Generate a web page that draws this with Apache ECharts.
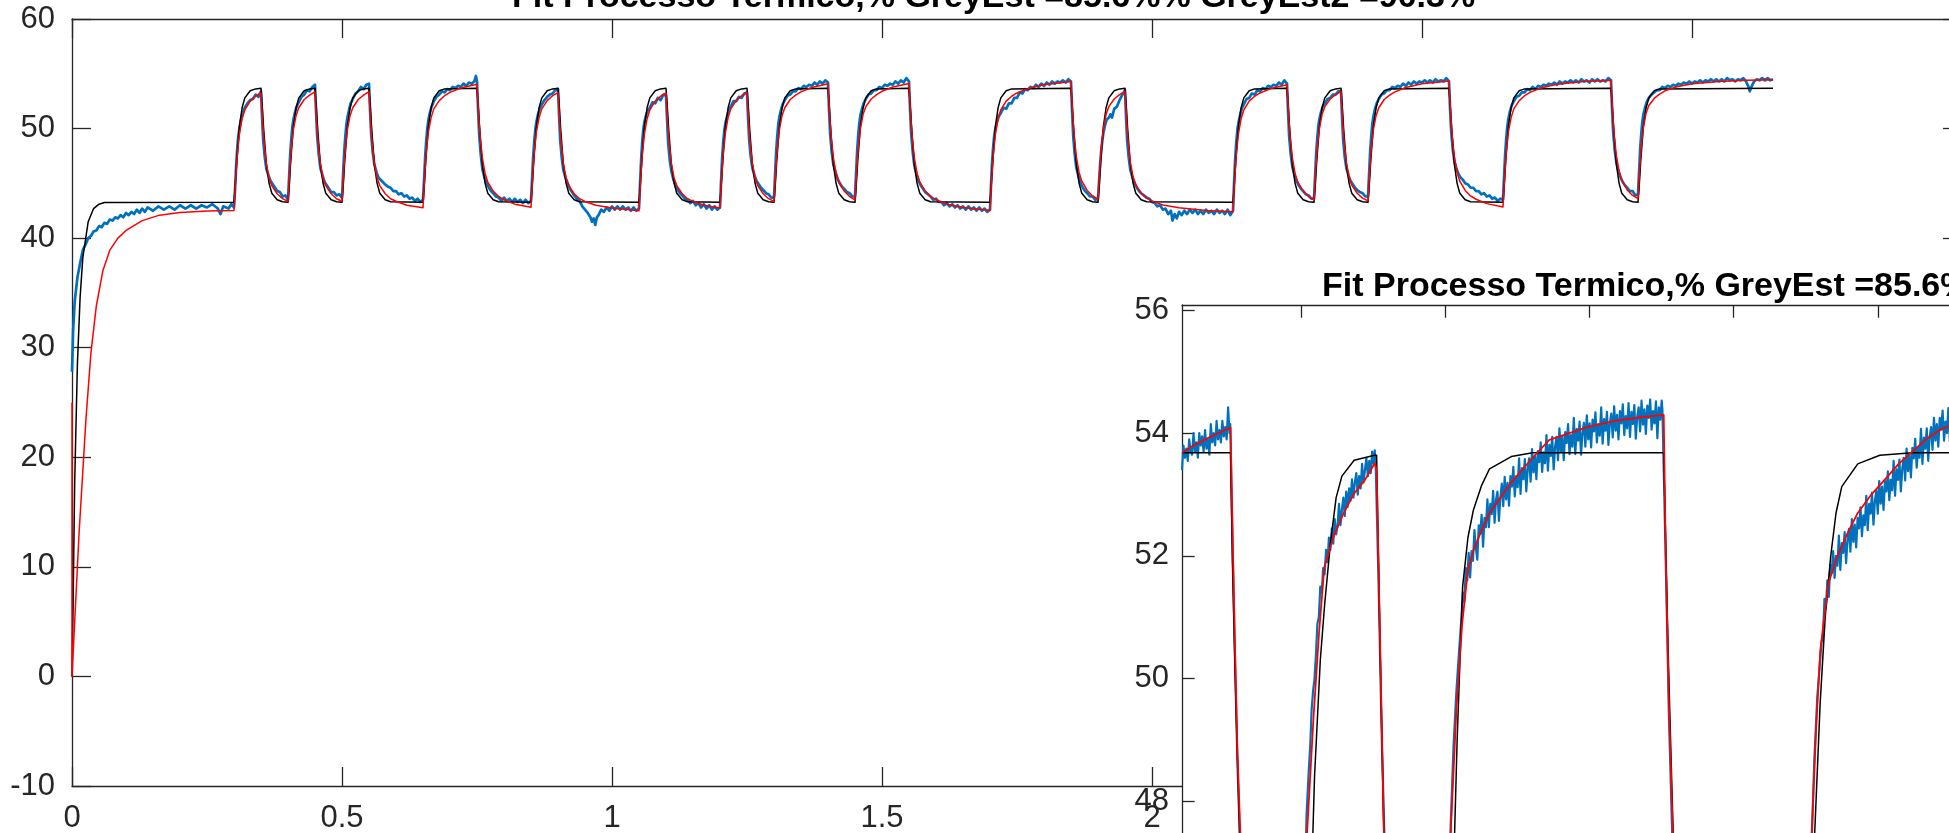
<!DOCTYPE html>
<html><head><meta charset="utf-8">
<script src="https://cdn.jsdelivr.net/npm/echarts@6/dist/echarts.min.js"></script>
<style>html,body{margin:0;padding:0;background:#fff}#c{width:1949px;height:833px}</style>
</head><body><div id="c"></div>
<script>
const mainTitle = 'Fit Processo Termico,% GreyEst =85.6%% GreyEst2 =90.3%';
const insetTitle = 'Fit Processo Termico,% GreyEst =85.6%% GreyEst2 =90.3%';
const mainYTicks = [-10, 0, 10, 20, 30, 40, 50, 60];
const mainXTicks = [0, 0.5, 1, 1.5, 2, 2.5, 3, 3.5];
const insetYTicks = [48, 50, 52, 54, 56];
const insetXTicks = [0.2, 0.3, 0.4, 0.5, 0.6, 0.7, 0.8, 0.9, 1.0];

// measured temperature (blue)
const measured = [
[0,27.8],[0.002,31.5],[0.005,34.2],[0.01,36.4],[0.015,37.7],[0.02,38.9],[0.025,39.4],[0.03,40.0],[0.035,40.2],[0.04,40.6],[0.045,40.7],[0.05,41.1],[0.055,41.0],[0.06,41.4],[0.065,41.3],[0.07,41.7],[0.075,41.6],[0.08,41.9],[0.085,41.8],[0.09,42.1],[0.095,41.9],[0.1,42.3],[0.105,42.1],[0.11,42.4],[0.115,42.2],[0.12,42.6],[0.125,42.3],[0.13,42.7],[0.135,42.4],[0.14,42.8],[0.15,42.5],[0.16,42.9],[0.17,42.6],[0.18,42.9],[0.19,42.6],[0.2,43.0],[0.21,42.7],[0.22,43.0],[0.23,42.7],[0.24,43.0],[0.25,42.8],[0.26,43.1],[0.27,42.7],[0.275,42.2],[0.28,42.9],[0.29,42.7],[0.295,43.1],[0.3,42.8],
[0.302,44.5],[0.304,46.6],[0.306,48.2],[0.308,49.3],[0.31,50.0],[0.313,50.8],[0.316,51.4],[0.32,51.9],[0.325,52.3],[0.33,52.6],[0.335,52.7],[0.34,53.1],[0.345,52.9],[0.35,53.4],
[0.352,51.0],[0.354,49.0],[0.357,47.4],[0.36,46.3],[0.364,45.7],[0.368,45.2],[0.372,44.9],[0.376,44.6],[0.38,44.3],[0.385,44.2],[0.39,43.8],[0.395,43.9],[0.4,43.5],
[0.402,45.5],[0.404,47.6],[0.406,49.0],[0.408,50.1],[0.41,50.8],[0.413,51.5],[0.416,52.0],[0.42,52.4],[0.425,52.9],[0.43,53.1],[0.435,53.5],[0.44,53.4],[0.445,53.8],[0.45,54.0],
[0.452,51.5],[0.454,49.3],[0.457,47.6],[0.46,46.4],[0.464,45.7],[0.468,45.1],[0.472,44.8],[0.476,44.5],[0.48,44.2],[0.485,44.2],[0.49,43.9],[0.495,44.0],[0.5,43.7],
[0.502,45.7],[0.504,47.8],[0.506,49.2],[0.508,50.3],[0.51,51.0],[0.513,51.7],[0.516,52.3],[0.52,52.7],[0.525,53.2],[0.53,53.4],[0.535,53.8],[0.54,53.6],[0.545,54.0],[0.55,54.1],
[0.552,51.6],[0.554,49.5],[0.557,47.8],[0.56,46.7],[0.564,46.0],[0.568,45.5],[0.572,45.3],[0.576,45.1],[0.58,44.9],[0.585,44.7],[0.59,44.6],[0.595,44.3],[0.6,44.3],[0.605,44.0],[0.61,44.1],[0.615,43.8],[0.62,43.9],[0.625,43.6],[0.63,43.7],[0.635,43.4],[0.64,43.6],[0.645,43.3],[0.65,43.5],
[0.652,45.3],[0.654,47.4],[0.656,48.9],[0.658,50.0],[0.66,50.8],[0.663,51.5],[0.666,52.0],[0.67,52.5],[0.675,52.9],[0.68,53.1],[0.685,53.4],[0.69,53.3],[0.695,53.6],[0.7,53.5],[0.705,53.8],[0.71,53.7],[0.715,53.9],[0.72,53.8],[0.725,54.1],[0.73,53.9],[0.735,54.2],[0.74,54.1],[0.745,54.3],[0.748,54.8],[0.75,54.3],
[0.752,51.7],[0.754,49.5],[0.757,47.6],[0.76,46.3],[0.764,45.5],[0.768,45.0],[0.772,44.6],[0.776,44.3],[0.78,44.1],[0.785,43.8],[0.79,43.7],[0.795,43.4],[0.8,43.7],[0.805,43.4],[0.81,43.6],[0.815,43.3],[0.82,43.6],[0.825,43.3],[0.83,43.5],[0.835,43.2],[0.84,43.5],[0.845,43.2],[0.85,43.4],
[0.852,45.4],[0.854,47.4],[0.856,48.8],[0.858,49.9],[0.86,50.6],[0.863,51.3],[0.866,51.8],[0.87,52.2],[0.875,52.6],[0.88,52.9],[0.885,53.1],[0.89,53.2],[0.895,53.5],[0.9,53.6],
[0.902,51.2],[0.904,49.0],[0.907,47.3],[0.91,46.2],[0.914,45.5],[0.918,45.0],[0.922,44.5],[0.926,44.2],[0.93,43.9],[0.935,43.6],[0.94,43.4],[0.945,42.9],[0.95,42.6],[0.955,42.3],[0.96,41.9],[0.963,41.5],[0.966,41.8],[0.969,41.2],[0.972,41.9],[0.975,42.1],[0.98,42.6],[0.985,42.4],[0.99,42.8],[0.995,42.5],[1.0,42.9],[1.005,42.6],[1.01,42.9],[1.015,42.6],[1.02,42.9],[1.025,42.6],[1.03,42.8],[1.035,42.5],[1.04,42.8],[1.045,42.5],[1.05,42.7],
[1.052,45.0],[1.054,47.2],[1.056,48.8],[1.058,49.9],[1.06,50.6],[1.063,51.2],[1.066,51.6],[1.07,51.9],[1.075,52.4],[1.08,52.3],[1.085,52.8],[1.09,52.6],[1.095,53.1],[1.1,53.0],
[1.102,50.8],[1.104,48.7],[1.107,47.1],[1.11,46.1],[1.114,45.3],[1.118,44.8],[1.122,44.4],[1.126,44.1],[1.13,43.9],[1.135,43.6],[1.14,43.5],[1.145,43.2],[1.15,43.4],[1.155,43.0],[1.16,43.2],[1.165,42.8],[1.17,43.1],[1.175,42.7],[1.18,43.0],[1.185,42.6],[1.19,42.9],[1.195,42.6],[1.2,42.8],
[1.202,45.2],[1.204,47.3],[1.206,48.8],[1.208,49.8],[1.21,50.5],[1.213,51.1],[1.216,51.6],[1.22,52.0],[1.225,52.5],[1.23,52.5],[1.235,52.9],[1.24,52.8],[1.245,53.2],[1.25,53.3],
[1.252,51.0],[1.254,49.0],[1.257,47.4],[1.26,46.4],[1.264,45.7],[1.268,45.2],[1.272,44.9],[1.276,44.6],[1.28,44.4],[1.285,44.1],[1.29,44.0],[1.295,43.7],[1.3,43.7],
[1.302,45.8],[1.304,47.9],[1.306,49.3],[1.308,50.4],[1.31,51.1],[1.313,51.7],[1.316,52.2],[1.32,52.6],[1.325,53.0],[1.33,53.1],[1.335,53.4],[1.34,53.4],[1.345,53.7],[1.35,53.6],[1.355,53.9],[1.36,53.8],[1.365,54.0],[1.37,53.9],[1.375,54.2],[1.38,54.0],[1.385,54.3],[1.39,54.1],[1.395,54.4],[1.4,54.2],
[1.402,51.6],[1.404,49.5],[1.407,47.8],[1.41,46.7],[1.414,46.0],[1.418,45.4],[1.422,45.0],[1.426,44.7],[1.43,44.5],[1.435,44.2],[1.44,44.1],[1.445,43.8],[1.45,43.8],
[1.452,45.9],[1.454,48.0],[1.456,49.4],[1.458,50.5],[1.46,51.2],[1.463,51.8],[1.466,52.3],[1.47,52.7],[1.475,53.1],[1.48,53.2],[1.485,53.5],[1.49,53.5],[1.495,53.8],[1.5,53.7],[1.505,54.0],[1.51,53.9],[1.515,54.1],[1.52,54.0],[1.525,54.3],[1.53,54.1],[1.535,54.4],[1.54,54.2],[1.545,54.6],[1.55,54.3],
[1.552,51.7],[1.554,49.6],[1.557,47.8],[1.56,46.6],[1.564,45.8],[1.568,45.2],[1.572,44.8],[1.576,44.5],[1.58,44.2],[1.585,44.0],[1.59,43.8],[1.595,43.5],[1.6,43.6],[1.605,43.3],[1.61,43.3],[1.615,43.0],[1.62,43.2],[1.625,42.9],[1.63,43.1],[1.635,42.8],[1.64,43.0],[1.645,42.7],[1.65,42.9],[1.655,42.6],[1.66,42.9],[1.665,42.6],[1.67,42.8],[1.675,42.5],[1.68,42.8],[1.685,42.5],[1.69,42.7],[1.695,42.4],[1.7,42.6],
[1.702,45.0],[1.704,47.0],[1.706,48.4],[1.708,49.4],[1.71,50.0],[1.713,50.6],[1.716,51.1],[1.72,51.4],[1.725,51.9],[1.73,51.8],[1.735,52.3],[1.74,52.3],[1.745,52.8],[1.75,52.8],[1.755,53.3],[1.76,53.2],[1.765,53.6],[1.77,53.5],[1.775,53.8],[1.78,53.7],[1.785,54.0],[1.79,53.8],[1.795,54.1],[1.8,53.9],[1.805,54.2],[1.81,54.0],[1.815,54.3],[1.82,54.1],[1.825,54.3],[1.83,54.2],[1.835,54.4],[1.84,54.2],[1.845,54.5],[1.85,54.3],
[1.852,51.6],[1.854,49.4],[1.857,47.6],[1.86,46.4],[1.864,45.6],[1.868,45.0],[1.872,44.6],[1.876,44.3],[1.88,44.1],[1.885,43.8],[1.89,43.8],[1.895,43.5],[1.9,43.6],
[1.902,45.2],[1.904,46.8],[1.906,48.0],[1.908,48.9],[1.91,49.6],[1.913,50.3],[1.916,50.8],[1.92,51.0],[1.923,51.3],[1.926,51.0],[1.93,51.8],[1.935,52.0],[1.94,52.6],[1.945,53.1],[1.95,53.5],
[1.952,51.0],[1.954,48.9],[1.957,47.3],[1.96,46.2],[1.964,45.5],[1.968,45.0],[1.972,44.6],[1.976,44.3],[1.98,44.1],[1.985,43.9],[1.99,43.7],[1.995,43.6],[2.0,43.3],[2.005,43.2],[2.01,42.9],[2.015,43.0],[2.02,42.6],[2.025,42.7],[2.03,42.2],[2.035,42.5],[2.038,41.6],[2.042,42.2],[2.046,41.8],[2.05,42.4],[2.055,42.1],[2.06,42.5],[2.065,42.2],[2.07,42.6],[2.075,42.3],[2.08,42.6],[2.085,42.2],[2.09,42.5],[2.095,42.2],[2.1,42.6],[2.105,42.3],[2.11,42.5],[2.115,42.2],[2.12,42.6],[2.125,42.3],[2.13,42.5],[2.135,42.2],[2.14,42.6],[2.145,42.1],[2.15,42.5],
[2.152,45.0],[2.154,47.2],[2.156,48.7],[2.158,49.8],[2.16,50.5],[2.163,51.2],[2.166,51.8],[2.17,52.2],[2.175,52.7],[2.18,52.8],[2.185,53.2],[2.19,53.1],[2.195,53.5],[2.2,53.4],[2.205,53.7],[2.21,53.6],[2.215,53.9],[2.22,53.8],[2.225,54.0],[2.23,53.9],[2.235,54.2],[2.24,54.0],[2.245,54.4],[2.25,54.1],
[2.252,51.5],[2.254,49.3],[2.257,47.6],[2.26,46.5],[2.264,45.7],[2.268,45.2],[2.272,44.8],[2.276,44.5],[2.28,44.3],[2.285,44.0],[2.29,43.9],[2.295,43.6],[2.3,43.6],
[2.302,45.6],[2.304,47.7],[2.306,49.1],[2.308,50.2],[2.31,50.9],[2.313,51.5],[2.316,52.0],[2.32,52.3],[2.325,52.7],[2.33,52.8],[2.335,53.1],[2.34,53.1],[2.345,53.4],[2.35,53.4],
[2.352,51.0],[2.354,49.0],[2.357,47.4],[2.36,46.4],[2.364,45.7],[2.368,45.2],[2.372,44.9],[2.376,44.6],[2.38,44.4],[2.385,44.2],[2.39,44.1],[2.395,43.8],[2.4,43.8],
[2.402,45.8],[2.404,47.9],[2.406,49.3],[2.408,50.4],[2.41,51.1],[2.413,51.8],[2.416,52.3],[2.42,52.7],[2.425,53.1],[2.43,53.2],[2.435,53.5],[2.44,53.5],[2.445,53.8],[2.45,53.7],[2.455,53.9],[2.46,53.8],[2.465,54.1],[2.47,53.9],[2.475,54.2],[2.48,54.0],[2.485,54.3],[2.49,54.1],[2.495,54.3],[2.5,54.2],[2.505,54.4],[2.51,54.2],[2.515,54.4],[2.52,54.2],[2.525,54.5],[2.53,54.3],[2.535,54.4],[2.54,54.3],[2.545,54.6],[2.55,54.3],
[2.552,51.8],[2.554,49.8],[2.557,48.1],[2.56,47.0],[2.564,46.3],[2.568,45.8],[2.572,45.5],[2.576,45.3],[2.58,45.0],[2.585,44.9],[2.59,44.6],[2.595,44.6],[2.6,44.3],[2.605,44.3],[2.61,44.0],[2.615,44.1],[2.62,43.8],[2.625,43.9],[2.63,43.6],[2.635,43.7],[2.64,43.4],[2.645,43.6],[2.65,43.5],
[2.652,45.6],[2.654,47.7],[2.656,49.1],[2.658,50.2],[2.66,50.9],[2.663,51.6],[2.666,52.1],[2.67,52.5],[2.675,52.9],[2.68,53.0],[2.685,53.3],[2.69,53.3],[2.695,53.6],[2.7,53.5],[2.705,53.8],[2.71,53.6],[2.715,53.9],[2.72,53.8],[2.725,54.0],[2.73,53.9],[2.735,54.1],[2.74,54.0],[2.745,54.2],[2.75,54.0],[2.755,54.3],[2.76,54.1],[2.765,54.3],[2.77,54.2],[2.775,54.4],[2.78,54.2],[2.785,54.4],[2.79,54.2],[2.795,54.5],[2.8,54.3],[2.805,54.4],[2.81,54.2],[2.815,54.5],[2.82,54.3],[2.825,54.5],[2.83,54.3],[2.835,54.4],[2.84,54.3],[2.845,54.6],[2.85,54.4],
[2.852,51.8],[2.854,49.7],[2.857,48.0],[2.86,46.9],[2.864,46.1],[2.868,45.5],[2.872,45.1],[2.876,44.8],[2.88,44.6],[2.885,44.3],[2.89,44.3],[2.895,43.9],[2.9,44.0],
[2.902,46.0],[2.904,48.1],[2.906,49.5],[2.908,50.6],[2.91,51.3],[2.913,51.9],[2.916,52.4],[2.92,52.8],[2.925,53.1],[2.93,53.3],[2.935,53.5],[2.94,53.5],[2.945,53.8],[2.95,53.7],[2.955,53.9],[2.96,53.8],[2.965,54.0],[2.97,53.9],[2.975,54.1],[2.98,54.0],[2.985,54.2],[2.99,54.1],[2.995,54.3],[3.0,54.1],[3.005,54.3],[3.01,54.2],[3.015,54.4],[3.02,54.2],[3.025,54.4],[3.03,54.3],[3.035,54.5],[3.04,54.3],[3.045,54.5],[3.05,54.3],[3.055,54.5],[3.06,54.3],[3.065,54.6],[3.07,54.4],[3.075,54.5],[3.08,54.3],[3.085,54.5],[3.09,54.4],[3.095,54.6],[3.1,54.3],[3.104,53.9],[3.107,53.4],[3.11,53.8],[3.115,54.3],[3.12,54.5],[3.125,54.4],[3.13,54.6],[3.135,54.4],[3.14,54.6],[3.145,54.4],[3.15,54.5]
];

// GreyEst model output (black)
const greyEst = [
[0,0],[0.002,6.5],[0.005,17.8],[0.01,28.5],[0.015,34.6],[0.02,38.2],[0.03,41.5],[0.04,42.7],[0.05,43.1],[0.06,43.25],[0.3,43.27],
[0.302,44.6],[0.305,47.0],[0.31,50.2],[0.315,51.9],[0.32,52.8],[0.33,53.45],[0.34,53.62],[0.35,53.67],
[0.352,52.3],[0.355,49.9],[0.36,46.7],[0.365,45.0],[0.37,44.1],[0.38,43.5],[0.39,43.32],[0.4,43.27],
[0.402,44.6],[0.405,47.0],[0.41,50.2],[0.415,51.9],[0.42,52.8],[0.43,53.45],[0.44,53.62],[0.45,53.67],
[0.452,52.3],[0.455,49.9],[0.46,46.7],[0.465,45.0],[0.47,44.1],[0.48,43.5],[0.49,43.32],[0.5,43.27],
[0.502,44.6],[0.505,47.0],[0.51,50.2],[0.515,51.9],[0.52,52.8],[0.53,53.45],[0.54,53.62],[0.55,53.67],
[0.552,52.3],[0.555,49.9],[0.56,46.7],[0.565,45.0],[0.57,44.1],[0.58,43.5],[0.59,43.32],[0.65,43.27],
[0.652,44.6],[0.655,47.0],[0.66,50.2],[0.665,51.9],[0.67,52.8],[0.68,53.45],[0.69,53.62],[0.75,53.67],
[0.752,52.3],[0.755,49.9],[0.76,46.7],[0.765,45.0],[0.77,44.1],[0.78,43.5],[0.79,43.32],[0.85,43.27],
[0.852,44.6],[0.855,47.0],[0.86,50.2],[0.865,51.9],[0.87,52.8],[0.88,53.45],[0.89,53.62],[0.9,53.67],
[0.902,52.3],[0.905,49.9],[0.91,46.7],[0.915,45.0],[0.92,44.1],[0.93,43.5],[0.94,43.32],[1.05,43.27],
[1.052,44.6],[1.055,47.0],[1.06,50.2],[1.065,51.9],[1.07,52.8],[1.08,53.45],[1.09,53.62],[1.1,53.67],
[1.102,52.3],[1.105,49.9],[1.11,46.7],[1.115,45.0],[1.12,44.1],[1.13,43.5],[1.14,43.32],[1.2,43.27],
[1.202,44.6],[1.205,47.0],[1.21,50.2],[1.215,51.9],[1.22,52.8],[1.23,53.45],[1.24,53.62],[1.25,53.67],
[1.252,52.3],[1.255,49.9],[1.26,46.7],[1.265,45.0],[1.27,44.1],[1.28,43.5],[1.29,43.32],[1.3,43.27],
[1.302,44.6],[1.305,47.0],[1.31,50.2],[1.315,51.9],[1.32,52.8],[1.33,53.45],[1.34,53.62],[1.4,53.67],
[1.402,52.3],[1.405,49.9],[1.41,46.7],[1.415,45.0],[1.42,44.1],[1.43,43.5],[1.44,43.32],[1.45,43.27],
[1.452,44.6],[1.455,47.0],[1.46,50.2],[1.465,51.9],[1.47,52.8],[1.48,53.45],[1.49,53.62],[1.55,53.67],
[1.552,52.3],[1.555,49.9],[1.56,46.7],[1.565,45.0],[1.57,44.1],[1.58,43.5],[1.59,43.32],[1.7,43.27],
[1.702,44.6],[1.705,47.0],[1.71,50.2],[1.715,51.9],[1.72,52.8],[1.73,53.45],[1.74,53.62],[1.85,53.67],
[1.852,52.3],[1.855,49.9],[1.86,46.7],[1.865,45.0],[1.87,44.1],[1.88,43.5],[1.89,43.32],[1.9,43.27],
[1.902,44.6],[1.905,47.0],[1.91,50.2],[1.915,51.9],[1.92,52.8],[1.93,53.45],[1.94,53.62],[1.95,53.67],
[1.952,52.3],[1.955,49.9],[1.96,46.7],[1.965,45.0],[1.97,44.1],[1.98,43.5],[1.99,43.32],[2.15,43.27],
[2.152,44.6],[2.155,47.0],[2.16,50.2],[2.165,51.9],[2.17,52.8],[2.18,53.45],[2.19,53.62],[2.25,53.67],
[2.252,52.3],[2.255,49.9],[2.26,46.7],[2.265,45.0],[2.27,44.1],[2.28,43.5],[2.29,43.32],[2.3,43.27],
[2.302,44.6],[2.305,47.0],[2.31,50.2],[2.315,51.9],[2.32,52.8],[2.33,53.45],[2.34,53.62],[2.35,53.67],
[2.352,52.3],[2.355,49.9],[2.36,46.7],[2.365,45.0],[2.37,44.1],[2.38,43.5],[2.39,43.32],[2.4,43.27],
[2.402,44.6],[2.405,47.0],[2.41,50.2],[2.415,51.9],[2.42,52.8],[2.43,53.45],[2.44,53.62],[2.55,53.67],
[2.552,52.3],[2.555,49.9],[2.56,46.7],[2.565,45.0],[2.57,44.1],[2.58,43.5],[2.59,43.32],[2.65,43.27],
[2.652,44.6],[2.655,47.0],[2.66,50.2],[2.665,51.9],[2.67,52.8],[2.68,53.45],[2.69,53.62],[2.85,53.67],
[2.852,52.3],[2.855,49.9],[2.86,46.7],[2.865,45.0],[2.87,44.1],[2.88,43.5],[2.89,43.32],[2.9,43.27],
[2.902,44.6],[2.905,47.0],[2.91,50.2],[2.915,51.9],[2.92,52.8],[2.93,53.45],[2.94,53.62],[3.15,53.67]
];

// GreyEst2 model output (red)
const greyEst2 = [
[0,25],[0,0],[0.013,13],[0.026,23.6],[0.035,29.5],[0.045,33.8],[0.057,37.0],[0.07,38.9],[0.085,40.0],[0.1,40.7],[0.13,41.6],[0.162,42.1],[0.2,42.35],[0.25,42.48],[0.3,42.52],
[0.303,45.3],[0.306,47.5],[0.31,49.5],[0.315,50.9],[0.32,51.7],[0.33,52.5],[0.34,52.95],[0.35,53.25],
[0.353,50.6],[0.356,48.6],[0.36,46.8],[0.365,45.5],[0.37,44.8],[0.38,44.05],[0.39,43.6],[0.4,43.35],
[0.403,46.0],[0.406,48.1],[0.41,49.9],[0.415,51.2],[0.42,51.9],[0.43,52.65],[0.44,53.05],[0.45,53.35],
[0.453,50.6],[0.456,48.6],[0.46,46.8],[0.465,45.5],[0.47,44.8],[0.48,44.05],[0.49,43.6],[0.5,43.37],
[0.503,46.0],[0.506,48.1],[0.51,49.9],[0.515,51.2],[0.52,51.9],[0.53,52.65],[0.54,53.05],[0.55,53.37],
[0.553,50.6],[0.556,48.6],[0.56,46.8],[0.565,45.5],[0.57,44.8],[0.58,44.05],[0.59,43.6],[0.6,43.37],[0.62,43.0],[0.65,42.78],
[0.653,45.6],[0.656,47.8],[0.66,49.7],[0.665,51.0],[0.67,51.8],[0.68,52.55],[0.69,53.0],[0.7,53.3],[0.72,53.7],[0.75,54.05],
[0.753,51.3],[0.756,49.2],[0.76,47.3],[0.765,45.9],[0.77,45.1],[0.78,44.3],[0.79,43.8],[0.8,43.5],[0.82,43.1],[0.85,42.82],
[0.853,45.6],[0.856,47.8],[0.86,49.7],[0.865,51.0],[0.87,51.8],[0.88,52.55],[0.89,53.0],[0.9,53.28],
[0.903,50.6],[0.906,48.6],[0.91,46.8],[0.915,45.5],[0.92,44.8],[0.93,44.05],[0.94,43.6],[0.95,43.35],[0.97,43.0],[1.0,42.75],[1.05,42.5],
[1.053,45.3],[1.056,47.5],[1.06,49.5],[1.065,50.9],[1.07,51.7],[1.08,52.5],[1.09,52.95],[1.1,53.25],
[1.103,50.6],[1.106,48.6],[1.11,46.8],[1.115,45.5],[1.12,44.8],[1.13,44.05],[1.14,43.6],[1.15,43.35],[1.17,43.0],[1.2,42.75],
[1.203,45.5],[1.206,47.7],[1.21,49.6],[1.215,51.0],[1.22,51.8],[1.23,52.55],[1.24,53.0],[1.25,53.28],
[1.253,50.6],[1.256,48.6],[1.26,46.8],[1.265,45.5],[1.27,44.8],[1.28,44.05],[1.29,43.6],[1.3,43.35],
[1.303,46.0],[1.306,48.1],[1.31,49.9],[1.315,51.2],[1.32,51.9],[1.33,52.65],[1.34,53.05],[1.35,53.35],[1.37,53.75],[1.4,54.1],
[1.403,51.3],[1.406,49.2],[1.41,47.3],[1.415,45.9],[1.42,45.1],[1.43,44.3],[1.44,43.8],[1.45,43.5],
[1.453,46.1],[1.456,48.2],[1.46,50.0],[1.465,51.3],[1.47,52.0],[1.48,52.7],[1.49,53.1],[1.5,53.4],[1.52,53.8],[1.55,54.12],
[1.553,51.3],[1.556,49.2],[1.56,47.3],[1.565,45.9],[1.57,45.1],[1.58,44.3],[1.59,43.8],[1.6,43.5],[1.62,43.1],[1.65,42.8],[1.7,42.52],
[1.703,45.3],[1.706,47.5],[1.71,49.5],[1.715,50.9],[1.72,51.7],[1.73,52.5],[1.74,52.95],[1.75,53.25],[1.77,53.65],[1.8,54.0],[1.85,54.3],
[1.853,51.4],[1.856,49.3],[1.86,47.4],[1.865,46.0],[1.87,45.2],[1.88,44.35],[1.89,43.85],[1.9,43.55],
[1.903,46.1],[1.906,48.2],[1.91,50.0],[1.915,51.3],[1.92,52.0],[1.93,52.7],[1.94,53.1],[1.95,53.4],
[1.953,50.7],[1.956,48.7],[1.96,46.9],[1.965,45.6],[1.97,44.85],[1.98,44.1],[1.99,43.65],[2.0,43.4],[2.02,43.02],[2.05,42.77],[2.1,42.52],[2.15,42.42],
[2.153,45.3],[2.156,47.5],[2.16,49.5],[2.165,50.9],[2.17,51.7],[2.18,52.5],[2.19,52.95],[2.2,53.25],[2.22,53.65],[2.25,54.0],
[2.253,51.3],[2.256,49.2],[2.26,47.3],[2.265,45.9],[2.27,45.1],[2.28,44.3],[2.29,43.8],[2.3,43.5],
[2.303,46.1],[2.306,48.2],[2.31,50.0],[2.315,51.3],[2.32,52.0],[2.33,52.7],[2.34,53.1],[2.35,53.4],
[2.353,50.7],[2.356,48.7],[2.36,46.9],[2.365,45.6],[2.37,44.85],[2.38,44.1],[2.39,43.65],[2.4,43.4],
[2.403,46.0],[2.406,48.1],[2.41,49.9],[2.415,51.2],[2.42,51.9],[2.43,52.65],[2.44,53.05],[2.45,53.35],[2.47,53.75],[2.5,54.1],[2.55,54.35],
[2.553,51.4],[2.556,49.3],[2.56,47.4],[2.565,46.0],[2.57,45.2],[2.58,44.35],[2.59,43.85],[2.6,43.55],[2.62,43.15],[2.65,42.85],
[2.653,45.6],[2.656,47.8],[2.66,49.7],[2.665,51.0],[2.67,51.8],[2.68,52.55],[2.69,53.0],[2.7,53.3],[2.72,53.7],[2.75,54.05],[2.8,54.3],[2.85,54.4],
[2.853,51.5],[2.856,49.4],[2.86,47.5],[2.865,46.1],[2.87,45.3],[2.88,44.4],[2.89,43.9],[2.9,43.6],
[2.903,46.2],[2.906,48.3],[2.91,50.1],[2.915,51.4],[2.92,52.1],[2.93,52.75],[2.94,53.15],[2.95,53.45],[2.97,53.8],[3.0,54.1],[3.05,54.3],[3.1,54.4],[3.15,54.45]
];

// inset (second figure) data
const insetMeasured = [
[0.117,53.4],[0.118,53.8],[0.119,53.6],[0.12,53.75],[0.121,53.55],[0.122,53.9],[0.123,53.7],[0.124,53.65],[0.125,54.0],[0.126,53.7],[0.127,53.85],[0.128,53.6],[0.129,54.0],[0.13,53.8],[0.131,53.95],[0.132,53.7],[0.133,54.05],[0.134,53.75],[0.135,53.9],[0.136,53.65],[0.137,54.15],[0.138,53.85],[0.139,54.0],[0.14,53.8],[0.141,54.2],[0.142,53.9],[0.143,54.05],[0.144,53.85],[0.145,54.2],[0.146,53.95],[0.147,54.1],[0.148,53.9],[0.149,54.42],[0.15,54.0],[0.1505,54.15],
[0.152,52.3],[0.1535,50.6],[0.1555,48.6],[0.158,46.8],[0.162,45.4],[0.175,43.7],[0.19,43.2],[0.199,43.0],
[0.2015,45.9],[0.2035,47.8],[0.205,48.5],[0.206,48.9],[0.207,49.5],[0.208,49.8],[0.209,50.0],[0.21,50.4],[0.211,50.9],[0.212,51.0],[0.213,51.5],[0.214,51.4],[0.215,51.8],[0.216,51.7],[0.217,52.1],[0.218,51.9],[0.219,52.3],[0.22,52.1],[0.221,52.45],[0.222,52.2],[0.223,52.6],[0.224,52.35],[0.225,52.5],[0.226,52.85],[0.227,52.5],[0.228,52.75],[0.229,52.95],[0.23,52.65],[0.231,53.05],[0.232,52.8],[0.233,53.1],[0.234,52.9],[0.235,53.25],[0.236,52.95],[0.237,53.2],[0.238,53.35],[0.239,53.0],[0.24,53.3],[0.241,53.1],[0.242,53.5],[0.243,53.2],[0.244,53.4],[0.245,53.6],[0.246,53.3],[0.247,53.55],[0.248,53.35],[0.249,53.7],[0.25,53.5],[0.2508,53.72],[0.2515,53.45],
[0.2535,51.5],[0.2555,49.2],[0.258,47.0],[0.263,45.0],[0.27,43.9],[0.285,43.2],[0.3,43.0],
[0.3015,45.3],[0.3035,47.6],[0.3055,48.9],[0.3075,49.8],[0.3095,50.5],[0.311,51.0],[0.312,51.4],[0.313,51.25],[0.314,51.8],[0.315,51.6],[0.316,52.05],[0.317,51.65],[0.318,52.08],[0.319,51.92],[0.32,52.42],[0.321,52.13],[0.322,51.94],[0.323,52.5],[0.324,52.36],[0.325,52.67],[0.326,52.15],[0.327,52.62],[0.328,52.47],[0.329,52.92],[0.33,52.47],[0.331,52.85],[0.332,52.68],[0.333,53.06],[0.334,52.54],[0.335,52.92],[0.336,53.05],[0.337,52.57],[0.338,52.95],[0.339,53.18],[0.34,52.81],[0.341,53.29],[0.342,52.92],[0.343,53.19],[0.344,52.82],[0.345,53.3],[0.346,53.13],[0.347,53.45],[0.348,52.97],[0.349,53.3],[0.35,53.12],[0.351,53.59],[0.352,53.01],[0.353,53.43],[0.354,53.25],[0.355,53.58],[0.356,53.05],[0.357,53.42],[0.358,53.59],[0.359,53.21],[0.36,53.74],[0.361,53.36],[0.362,53.63],[0.363,53.25],[0.364,53.71],[0.365,53.53],[0.366,53.85],[0.367,53.37],[0.368,53.69],[0.369,53.51],[0.37,53.97],[0.371,53.39],[0.372,53.81],[0.373,53.63],[0.374,53.94],[0.375,53.41],[0.376,53.78],[0.377,53.94],[0.378,53.56],[0.379,54.08],[0.38,53.69],[0.381,53.95],[0.382,53.56],[0.383,54.02],[0.384,53.84],[0.385,54.15],[0.386,53.66],[0.387,53.97],[0.388,53.78],[0.389,54.25],[0.39,53.66],[0.391,54.07],[0.392,53.88],[0.393,54.19],[0.394,53.65],[0.395,54.01],[0.396,54.17],[0.397,53.78],[0.398,54.29],[0.399,53.9],[0.4,54.16],[0.401,53.77],[0.402,54.22],[0.403,54.03],[0.404,54.34],[0.405,53.85],[0.406,54.15],[0.407,53.96],[0.408,54.42],[0.409,53.83],[0.41,54.23],[0.411,54.04],[0.412,54.35],[0.413,53.81],[0.414,54.16],[0.415,54.32],[0.416,53.93],[0.417,54.44],[0.418,54.04],[0.419,54.3],[0.42,53.9],[0.421,54.36],[0.422,54.16],[0.423,54.47],[0.424,53.97],[0.425,54.28],[0.426,54.08],[0.427,54.49],[0.428,53.94],[0.429,54.35],[0.43,54.15],[0.431,54.46],[0.432,53.91],[0.433,54.27],[0.434,54.42],[0.435,54.03],[0.436,54.53],[0.437,54.14],[0.438,54.39],[0.439,53.99],[0.44,54.45],[0.441,54.25],[0.442,54.55],[0.443,54.06],[0.444,54.36],[0.445,54.16],[0.446,54.52],[0.447,53.92],[0.448,54.42],[0.449,54.22],[0.45,54.53],[0.4505,54.38],
[0.453,51.7],[0.455,49.4],[0.4575,47.3],[0.462,45.4],[0.47,44.2],[0.485,43.4],[0.51,43.0],[0.54,42.8],[0.5505,42.7],
[0.552,45.2],[0.554,47.3],[0.556,48.7],[0.558,49.7],[0.56,50.3],[0.561,50.6],[0.562,50.7],[0.563,51.3],[0.564,51.15],[0.565,51.6],[0.566,51.33],[0.567,51.85],[0.568,51.72],[0.569,52.08],[0.57,51.64],[0.571,52.0],[0.572,51.84],[0.573,52.33],[0.574,51.77],[0.575,52.21],[0.576,52.05],[0.577,52.39],[0.578,51.88],[0.579,52.26],[0.58,52.44],[0.581,52.07],[0.582,52.6],[0.583,52.23],[0.584,52.51],[0.585,52.14],[0.586,52.62],[0.587,52.45],[0.588,52.79],[0.589,52.32],[0.59,52.66],[0.591,52.5],[0.592,52.98],[0.593,52.42],[0.594,52.85],[0.595,52.69],[0.596,53.03],[0.597,52.51],[0.598,52.89],[0.599,53.07],[0.6,52.69],[0.601,53.22],[0.602,52.85],[0.603,53.13],[0.604,52.75],[0.605,53.22],[0.606,53.05],[0.607,53.38],[0.608,52.91],[0.609,53.24],[0.61,53.07],[0.611,53.55],[0.612,52.98],[0.613,53.41],[0.614,53.24],[0.615,53.57],[0.616,53.05],[0.617,53.42],[0.618,53.6],[0.619,53.23],[0.62,53.75],[0.621,53.38],[0.622,53.66],[0.623,53.28],[0.624,53.76],[0.625,53.59],[0.626,53.91],[0.627,53.44],[0.628,53.77],[0.629,53.6],[0.63,54.07],[0.631,53.5],[0.632,53.93],[0.633,53.75],[0.634,54.08],[0.635,53.55],[0.636,53.93],[0.637,54.1],[0.638,53.73],[0.639,54.25],[0.64,53.88],[0.641,54.15],[0.642,53.78],[0.643,54.25],[0.644,54.06],[0.645,54.37],[0.646,53.88],[0.647,54.19],[0.648,54.0],[0.649,54.41],[0.65,53.87],[0.652,54.23],[0.655,54.05],[0.66,54.3]
];
const insetGreyEst = [
[0.117,53.68],[0.1507,53.68],[0.152,51.9],[0.1545,49.5],[0.1576,47.0],[0.162,45.0],[0.17,43.8],[0.18,43.35],[0.2,43.27],
[0.203,44.5],[0.206,46.0],[0.209,48.4],[0.213,50.3],[0.216,51.2],[0.22,52.2],[0.224,52.95],[0.228,53.3],[0.2365,53.56],[0.2507,53.64],
[0.2521,53.64],[0.2545,50.5],[0.2572,47.4],[0.262,45.0],[0.27,43.8],[0.28,43.35],[0.3,43.27],
[0.302,44.3],[0.305,46.4],[0.308,49.0],[0.3118,51.5],[0.3155,52.3],[0.3193,52.75],[0.325,53.15],[0.3305,53.42],[0.3456,53.62],[0.3604,53.68],[0.4514,53.68],
[0.4545,50.4],[0.4583,47.2],[0.463,45.0],[0.47,43.8],[0.48,43.35],[0.552,43.27],
[0.554,45.0],[0.5562,47.48],[0.56,49.6],[0.5635,51.0],[0.5673,51.99],[0.571,52.7],[0.575,53.13],[0.5861,53.5],[0.6014,53.64],[0.624,53.68],[0.75,53.68]
];
const insetGreyEst2 = [
[0.117,53.68],[0.125,53.8],[0.133,53.9],[0.142,54.0],[0.1507,54.09],
[0.152,52.5],[0.1535,50.8],[0.1555,48.8],[0.1576,47.4],[0.161,45.8],[0.167,44.6],[0.175,43.8],[0.19,43.3],[0.199,43.2],
[0.2015,45.6],[0.2038,47.48],[0.2083,49.37],[0.2121,50.74],[0.2158,51.82],[0.222,52.3],[0.229,52.69],[0.236,53.0],[0.244,53.24],[0.2508,53.51],
[0.2521,53.4],[0.2545,50.6],[0.2572,47.4],[0.262,45.3],[0.27,44.0],[0.285,43.3],[0.3,43.05],
[0.3005,45.2],[0.3035,47.48],[0.3075,49.5],[0.3115,50.9],[0.3155,51.77],[0.3193,52.09],[0.325,52.42],[0.3305,52.7],[0.3456,53.2],[0.3604,53.6],[0.372,53.89],[0.3983,54.1],[0.4171,54.2],[0.4359,54.26],[0.4514,54.3],
[0.4528,52.0],[0.455,49.6],[0.4583,47.0],[0.463,45.3],[0.47,44.2],[0.485,43.4],[0.51,43.0],[0.54,42.8],[0.551,42.75],
[0.5525,45.8],[0.5542,47.48],[0.5572,49.2],[0.5601,50.46],[0.5657,51.55],[0.5713,51.95],[0.5786,52.35],[0.5861,52.7],[0.5955,53.0],[0.6052,53.25],[0.6145,53.5],[0.624,53.7],[0.6335,53.9],[0.6428,54.05],[0.655,54.17],[0.7,54.35],[0.75,54.45]
];

const AX = '#262626';
const FONT = '"Liberation Sans", Arial, Helvetica, sans-serif';
const BLUE = '#0072BD';
const tickLabel = {color: AX, fontSize: 31, fontFamily: FONT};
const axLine = {onZero: false, lineStyle: {color: AX, width: 1.3}};
function tick(len) { return {inside: true, length: len, lineStyle: {color: AX, width: 1.3}}; }

const chart = echarts.init(document.getElementById('c'), null, {renderer: 'canvas', devicePixelRatio: 1});
const option = {
  animation: false,
  backgroundColor: '#fff',
  title: [
    {text: mainTitle, left: 512, top: -19, padding: 0, textStyle: {fontFamily: FONT, fontSize: 34, fontWeight: 'bold', color: '#000'}},
    {text: insetTitle, left: 1322, top: 270, padding: 0, z: 20, textStyle: {fontFamily: FONT, fontSize: 34, fontWeight: 'bold', color: '#000'}}
  ],
  grid: [
    {left: 72, top: 19, width: 1890, height: 767, show: false, containLabel: false, outerBoundsMode: 'none'},
    {left: 1182, top: 305, width: 1272, height: 619, show: true, backgroundColor: '#fff', borderWidth: 0, z: 10, containLabel: false, outerBoundsMode: 'none'}
  ],
  xAxis: [
    {gridIndex: 0, type: 'value', min: mainXTicks[0], max: mainXTicks[mainXTicks.length-1], interval: 0.5, position: 'bottom',
     axisLine: axLine, axisTick: tick(19), splitLine: {show: false}, axisLabel: Object.assign({margin: 17}, tickLabel)},
    {gridIndex: 0, type: 'value', min: mainXTicks[0], max: mainXTicks[mainXTicks.length-1], interval: 0.5, position: 'top',
     axisLine: axLine, axisTick: tick(19), splitLine: {show: false}, axisLabel: {show: false}},
    {gridIndex: 1, type: 'value', min: 0.117, max: 1.0, position: 'bottom', z: 11,
     axisLine: axLine, axisTick: Object.assign(tick(12.7), {customValues: insetXTicks}), splitLine: {show: false},
     axisLabel: Object.assign({margin: 17, customValues: insetXTicks}, tickLabel)},
    {gridIndex: 1, type: 'value', min: 0.117, max: 1.0, position: 'top', z: 11,
     axisLine: axLine, axisTick: Object.assign(tick(12.7), {customValues: insetXTicks}), splitLine: {show: false}, axisLabel: {show: false}}
  ],
  yAxis: [
    {gridIndex: 0, type: 'value', min: mainYTicks[0], max: mainYTicks[mainYTicks.length-1], interval: 10, position: 'left',
     axisLine: axLine, axisTick: tick(19), splitLine: {show: false}, axisLabel: Object.assign({margin: 17}, tickLabel)},
    {gridIndex: 0, type: 'value', min: mainYTicks[0], max: mainYTicks[mainYTicks.length-1], interval: 10, position: 'right',
     axisLine: axLine, axisTick: tick(19), splitLine: {show: false}, axisLabel: {show: false}},
    {gridIndex: 1, type: 'value', min: 46, max: 56.09, position: 'left', z: 11,
     axisLine: axLine, axisTick: Object.assign(tick(12.7), {customValues: insetYTicks}), splitLine: {show: false},
     axisLabel: Object.assign({margin: 13, customValues: insetYTicks}, tickLabel)},
    {gridIndex: 1, type: 'value', min: 46, max: 56.09, position: 'right', z: 11,
     axisLine: axLine, axisTick: Object.assign(tick(12.7), {customValues: insetYTicks}), splitLine: {show: false}, axisLabel: {show: false}}
  ],
  series: [
    {name: 'measured', type: 'line', xAxisIndex: 0, yAxisIndex: 0, data: measured, showSymbol: false, symbol: 'none', z: 2,
     lineStyle: {color: BLUE, width: 2.7, join: 'round'}},
    {name: 'GreyEst', type: 'line', xAxisIndex: 0, yAxisIndex: 0, data: greyEst, showSymbol: false, symbol: 'none', z: 3,
     lineStyle: {color: '#000', width: 1.5, join: 'round'}},
    {name: 'GreyEst2', type: 'line', xAxisIndex: 0, yAxisIndex: 0, data: greyEst2, showSymbol: false, symbol: 'none', z: 4,
     lineStyle: {color: '#ff0000', width: 1.5, join: 'round'}},
    {name: 'measured inset', type: 'line', xAxisIndex: 2, yAxisIndex: 2, data: insetMeasured, showSymbol: false, symbol: 'none', z: 12,
     lineStyle: {color: BLUE, width: 2.2, join: 'round'}},
    {name: 'GreyEst inset', type: 'line', xAxisIndex: 2, yAxisIndex: 2, data: insetGreyEst, showSymbol: false, symbol: 'none', z: 13,
     lineStyle: {color: '#000', width: 1.5, join: 'round'}},
    {name: 'GreyEst2 inset', type: 'line', xAxisIndex: 2, yAxisIndex: 2, data: insetGreyEst2, showSymbol: false, symbol: 'none', z: 14,
     lineStyle: {color: '#ff0000', width: 1.8, join: 'round'}}
  ]
};
chart.setOption(option);
</script>
</body></html>
